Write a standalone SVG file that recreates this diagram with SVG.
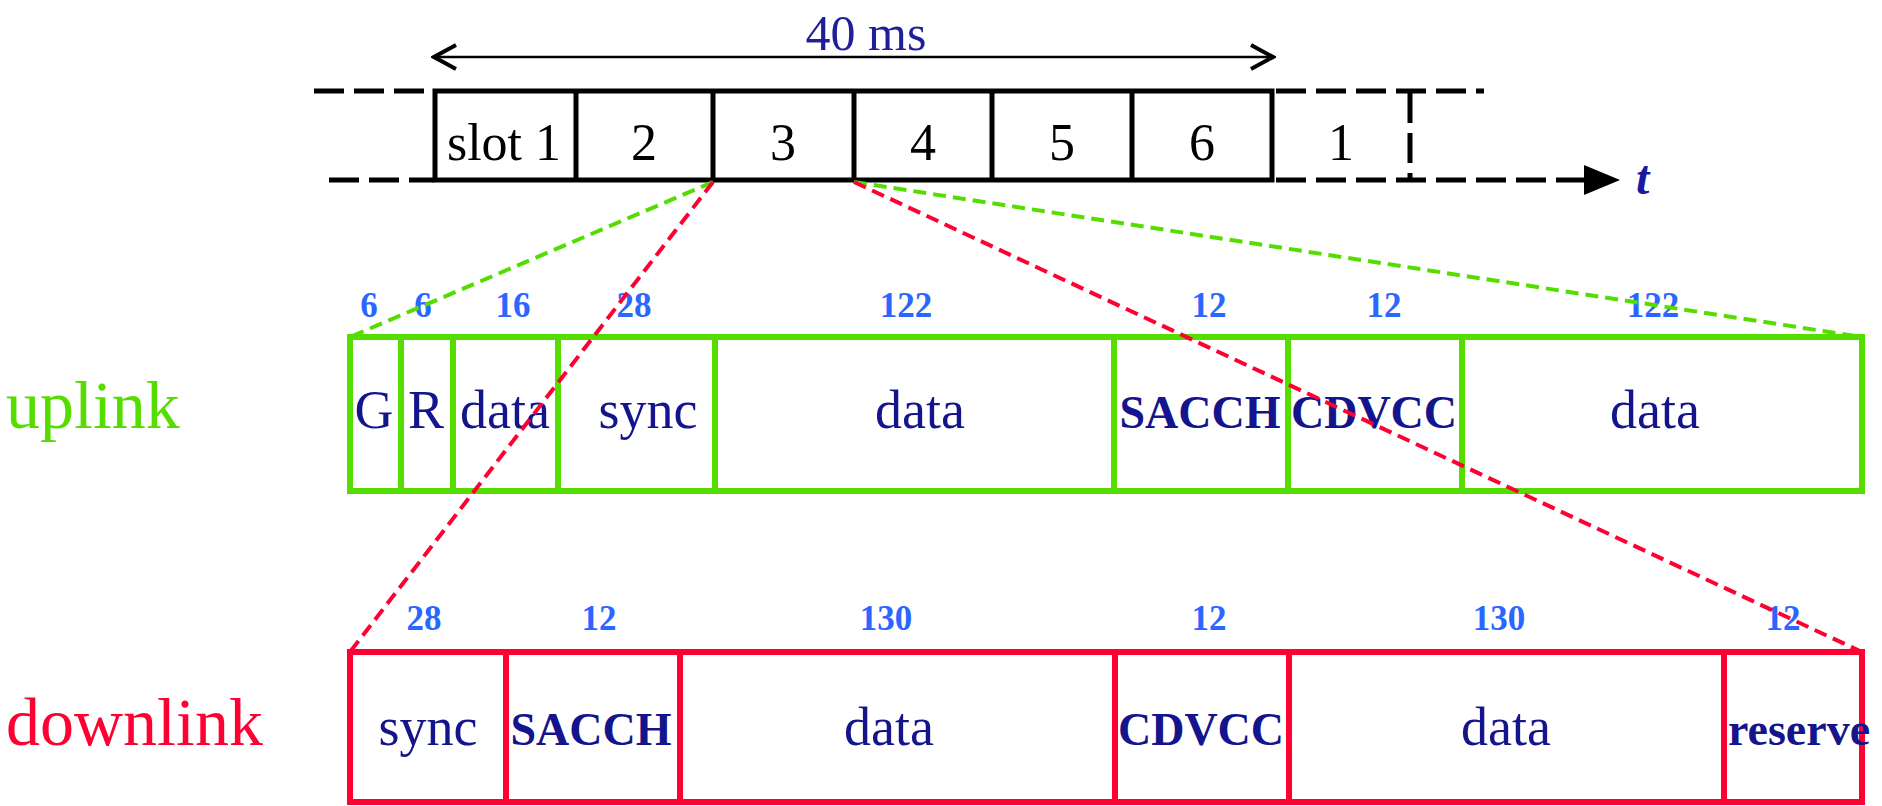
<svg xmlns="http://www.w3.org/2000/svg" width="1882" height="806" viewBox="0 0 1882 806">
  <defs>
    <style>
      .ser { font-family: "Liberation Serif", "Times New Roman", serif; }
      .frame { fill: none; stroke: #000; stroke-width: 5; }
      .dash { fill: none; stroke: #000; stroke-width: 5; stroke-dasharray: 30 10; }
      .slot { font-size: 52px; text-anchor: middle; fill: #000; }
      .up { fill: none; stroke: #55dd00; stroke-width: 6; }
      .dn { fill: none; stroke: #ff0033; stroke-width: 6; }
      .lbl { font-size: 54px; text-anchor: middle; fill: #14148c; }
      .blbl { font-size: 46px; font-weight: bold; text-anchor: middle; fill: #14148c; }
      .num { font-size: 35px; font-weight: bold; text-anchor: middle; fill: #2a66ff; }
      .zg { fill: none; stroke: #55dd00; stroke-width: 4; stroke-dasharray: 13 7; }
      .zr { fill: none; stroke: #ff0033; stroke-width: 4; stroke-dasharray: 13 7; }
    </style>
    <marker id="chev" viewBox="0 0 30 30" refX="27" refY="15" markerWidth="30" markerHeight="30" markerUnits="userSpaceOnUse" orient="auto-start-reverse">
      <path d="M5,3 L27,15 L5,27" fill="none" stroke="#000" stroke-width="4"/>
    </marker>
  </defs>

  <!-- frame period: 40 ms over six slots -->
  <g id="period">
    <line x1="434" y1="57" x2="1273" y2="57" stroke="#000" stroke-width="2.5" marker-start="url(#chev)" marker-end="url(#chev)"/>
    <text class="ser" x="866" y="50" font-size="50" fill="#1f1f99" text-anchor="middle">40 ms</text>
  </g>

  <!-- TDMA slot row with time axis -->
  <g id="slots">
    <path class="dash" d="M314,91 H434" stroke-dasharray="7 13 34 8 34 8"/>
    <path class="dash" d="M329,180 H434" stroke-dasharray="8 12 34 8 34 8"/>
    <rect class="frame" x="435" y="91" width="837" height="89"/>
    <line class="frame" x1="576" y1="91" x2="576" y2="180"/>
    <line class="frame" x1="713" y1="91" x2="713" y2="180"/>
    <line class="frame" x1="854" y1="91" x2="854" y2="180"/>
    <line class="frame" x1="992" y1="91" x2="992" y2="180"/>
    <line class="frame" x1="1132" y1="91" x2="1132" y2="180"/>
    <path class="dash" d="M1276,91 H1484"/>
    <path class="dash" d="M1276,180 H1588"/>
    <path class="dash" d="M1410,93 V180" stroke-dasharray="22 10"/>
    <polygon points="1584,165 1620,180 1584,195" fill="#000"/>
    <text class="ser" x="1636" y="194" font-size="48" font-weight="bold" font-style="italic" fill="#1a1aa0">t</text>
    <text class="ser slot" x="504" y="160">slot 1</text>
    <text class="ser slot" x="644" y="160">2</text>
    <text class="ser slot" x="783" y="160">3</text>
    <text class="ser slot" x="923" y="160">4</text>
    <text class="ser slot" x="1062" y="160">5</text>
    <text class="ser slot" x="1202" y="160">6</text>
    <text class="ser slot" x="1341" y="160">1</text>
  </g>

  <!-- uplink slot format -->
  <g id="uplink">
    <text class="ser" x="6" y="428" font-size="68" fill="#55dd00">uplink</text>
    <rect class="up" x="350" y="337" width="1512" height="154"/>
    <line class="up" x1="401" y1="337" x2="401" y2="491"/>
    <line class="up" x1="453" y1="337" x2="453" y2="491"/>
    <line class="up" x1="558" y1="337" x2="558" y2="491"/>
    <line class="up" x1="715" y1="337" x2="715" y2="491"/>
    <line class="up" x1="1114" y1="337" x2="1114" y2="491"/>
    <line class="up" x1="1288" y1="337" x2="1288" y2="491"/>
    <line class="up" x1="1462" y1="337" x2="1462" y2="491"/>
    <text class="ser num" x="369" y="317">6</text>
    <text class="ser num" x="423" y="317">6</text>
    <text class="ser num" x="513" y="317">16</text>
    <text class="ser num" x="634" y="317">28</text>
    <text class="ser num" x="906" y="317">122</text>
    <text class="ser num" x="1209" y="317">12</text>
    <text class="ser num" x="1384" y="317">12</text>
    <text class="ser num" x="1653" y="317">122</text>
    <text class="ser lbl" x="374" y="428">G</text>
    <text class="ser lbl" x="426" y="428">R</text>
    <text class="ser lbl" x="505" y="428">data</text>
    <text class="ser lbl" x="648" y="428">sync</text>
    <text class="ser lbl" x="920" y="428">data</text>
    <text class="ser blbl" x="1200" y="428">SACCH</text>
    <text class="ser blbl" x="1374" y="428">CDVCC</text>
    <text class="ser lbl" x="1655" y="428">data</text>
  </g>

  <!-- downlink slot format -->
  <g id="downlink">
    <text class="ser" x="6" y="745" font-size="68" fill="#ff0033">downlink</text>
    <rect class="dn" x="350" y="652" width="1512" height="150"/>
    <line class="dn" x1="506" y1="652" x2="506" y2="802"/>
    <line class="dn" x1="680" y1="652" x2="680" y2="802"/>
    <line class="dn" x1="1115" y1="652" x2="1115" y2="802"/>
    <line class="dn" x1="1289" y1="652" x2="1289" y2="802"/>
    <line class="dn" x1="1724" y1="652" x2="1724" y2="802"/>
    <text class="ser num" x="424" y="630">28</text>
    <text class="ser num" x="599" y="630">12</text>
    <text class="ser num" x="886" y="630">130</text>
    <text class="ser num" x="1209" y="630">12</text>
    <text class="ser num" x="1499" y="630">130</text>
    <text class="ser num" x="1783" y="630">12</text>
    <text class="ser lbl" x="428" y="745">sync</text>
    <text class="ser blbl" x="591" y="745">SACCH</text>
    <text class="ser lbl" x="889" y="745">data</text>
    <text class="ser blbl" x="1201" y="745">CDVCC</text>
    <text class="ser lbl" x="1506" y="745">data</text>
    <text class="ser blbl" x="1799" y="745">reserve</text>
  </g>

  <!-- expansion lines from slot 3 to the two burst formats -->
  <g id="connectors">
    <line class="zg" x1="713" y1="182" x2="350" y2="337"/>
    <line class="zg" x1="854" y1="182" x2="1862" y2="337"/>
    <line class="zr" x1="713" y1="182" x2="350" y2="652"/>
    <line class="zr" x1="854" y1="182" x2="1862" y2="652"/>
  </g>
</svg>
